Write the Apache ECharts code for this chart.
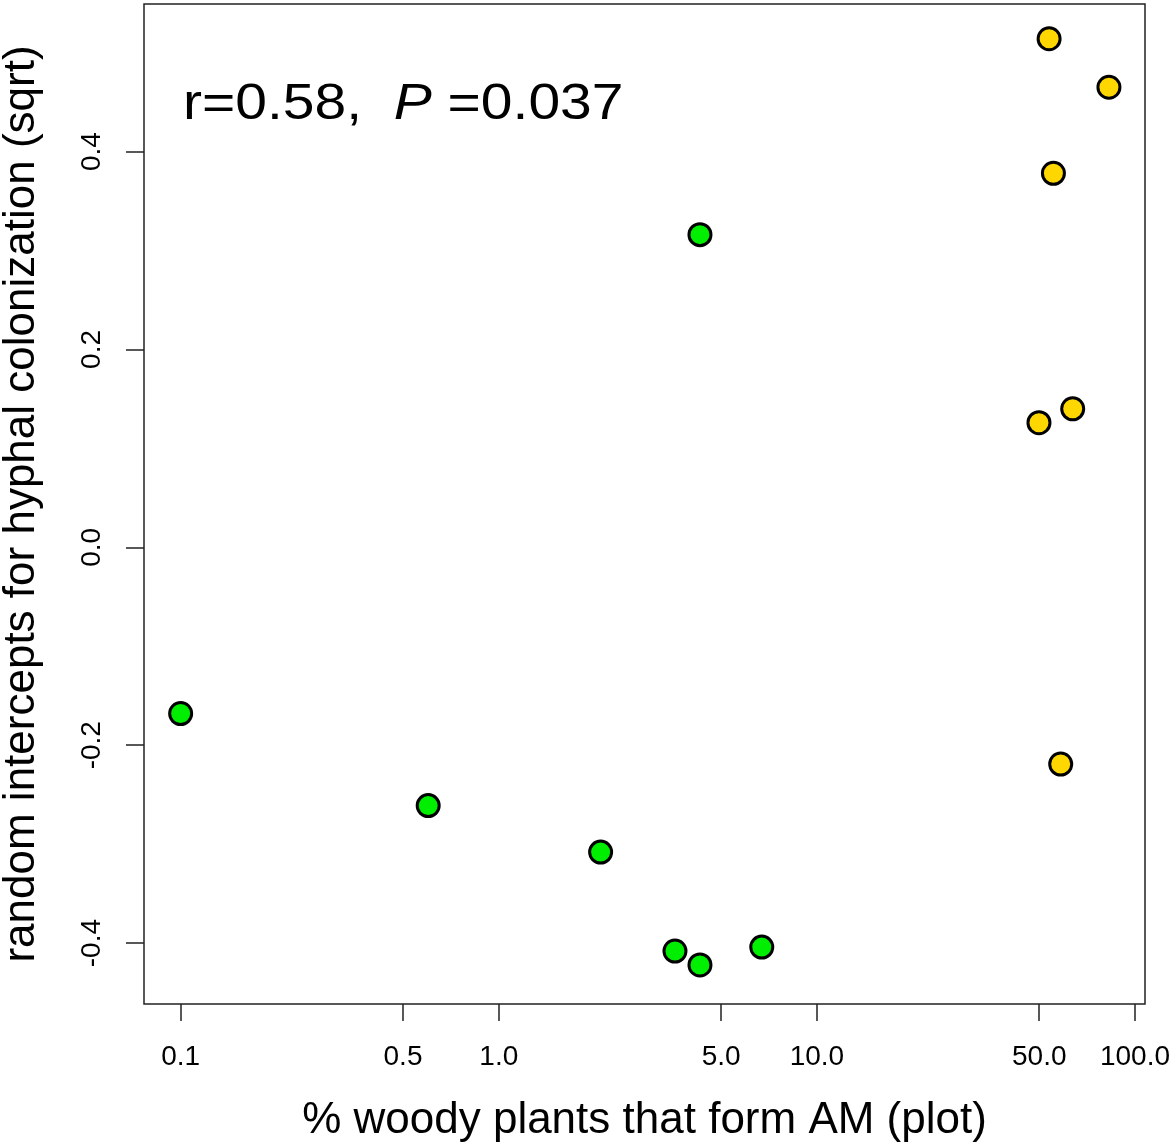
<!DOCTYPE html>
<html>
<head>
<meta charset="utf-8">
<script src="https://cdn.jsdelivr.net/npm/echarts@6/dist/echarts.min.js"></script>
<style>
html,body{margin:0;padding:0;background:#fff;}
#chart{width:1172px;height:1142px;}
</style>
</head>
<body>
<div id="chart"></div>
<script>
// ---- data ----
const greenX = [0.1, 0.60, 2.09, 4.29, 3.58, 4.29, 6.71];
const greenY = [-0.168, -0.261, -0.308, 0.316, -0.408, -0.422, -0.404];
const goldX = [53.7, 82.8, 55.4, 49.9, 63.7, 58.4];
const goldY = [0.514, 0.465, 0.378, 0.126, 0.140, -0.219];
const xTicks = [0.1, 0.5, 1, 5, 10, 50, 100];
const xTickLabels = ['0.1', '0.5', '1.0', '5.0', '10.0', '50.0', '100.0'];
const yTicks = [-0.4, -0.2, 0, 0.2, 0.4];
const yTickLabels = ['-0.4', '-0.2', '0.0', '0.2', '0.4'];
const xTitle = '% woody plants that form AM (plot)';
const yTitle = 'random intercepts for hyphal colonization (sqrt)';

const FONT = '"Liberation Sans", Arial, Helvetica, sans-serif';

function pairs(xs, ys) { return xs.map((x, i) => [x, ys[i]]); }
function labelFor(v, ticks, labels, log) {
  for (let i = 0; i < ticks.length; i++) {
    const a = log ? Math.log10(v) : v, b = log ? Math.log10(ticks[i]) : ticks[i];
    if (Math.abs(a - b) < 1e-6) return labels[i];
  }
  return '';
}

const chart = echarts.init(document.getElementById('chart'), null, {renderer: 'canvas'});
chart.setOption({
  animation: false,
  backgroundColor: '#ffffff',
  grid: {
    left: 144, top: 4, right: 27, bottom: 138,
    containLabel: false, outerBoundsMode: 'none',
    show: true, borderColor: '#222', borderWidth: 1.5, backgroundColor: 'transparent'
  },
  xAxis: {
    type: 'log', logBase: 10, min: 0.0767, max: 107.5,
    name: xTitle, nameLocation: 'middle', nameGap: 95,
    nameTextStyle: {fontFamily: FONT, fontSize: 44, color: '#000'},
    axisLine: {show: false, onZero: false},
    splitLine: {show: false},
    axisTick: {show: true, inside: false, length: 17, customValues: xTicks,
      lineStyle: {color: '#222', width: 1.5}},
    axisLabel: {show: true, margin: 39, customValues: xTicks,
      fontFamily: FONT, fontSize: 28, color: '#000',
      formatter: v => labelFor(v, xTicks, xTickLabels, true)}
  },
  yAxis: {
    type: 'value', min: -0.4615, max: 0.5491,
    name: yTitle, nameLocation: 'middle', nameGap: 100,
    nameTextStyle: {fontFamily: FONT, fontSize: 44, color: '#000'},
    axisLine: {show: false, onZero: false},
    splitLine: {show: false},
    axisTick: {show: true, inside: false, length: 18, customValues: yTicks,
      lineStyle: {color: '#222', width: 1.5}},
    axisLabel: {show: true, margin: 38, rotate: 90, customValues: yTicks,
      fontFamily: FONT, fontSize: 28, color: '#000',
      formatter: v => labelFor(v, yTicks, yTickLabels, false)}
  },
  graphic: [{
    type: 'text', x: 183, y: 80, scaleX: 1.14, scaleY: 1,
    style: {
      rich: {
        a: {fontFamily: FONT, fontSize: 50, fill: '#000'},
        b: {fontFamily: FONT, fontSize: 50, fontStyle: 'italic', fill: '#000'}
      },
      text: '{a|r=0.58,  }{b|P}{a| =0.037}'
    }
  }],
  series: [
    {
      type: 'scatter', data: pairs(greenX, greenY), symbol: 'circle', symbolSize: 22,
      itemStyle: {color: '#00ee00', borderColor: '#000', borderWidth: 3, opacity: 1}
    },
    {
      type: 'scatter', data: pairs(goldX, goldY), symbol: 'circle', symbolSize: 22,
      itemStyle: {color: '#ffd700', borderColor: '#000', borderWidth: 3, opacity: 1}
    }
  ]
});
</script>
</body>
</html>
